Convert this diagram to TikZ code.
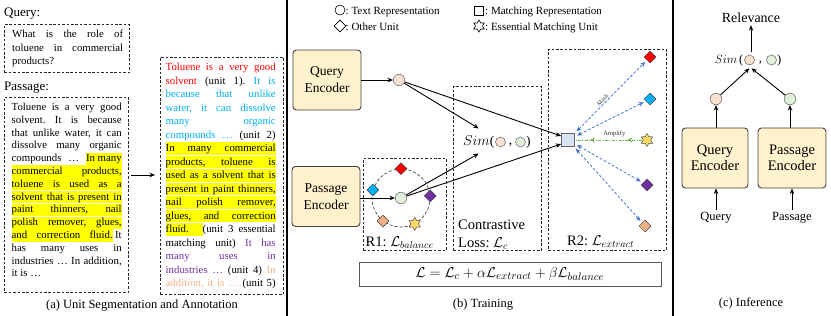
\documentclass[tikz,border=0pt]{standalone}
\usepackage{fontspec}
\setmainfont{Liberation Serif}
\usetikzlibrary{arrows.meta,shapes.geometric,decorations.markings,positioning}
\definecolor{encfill}{HTML}{FFF2CC}
\definecolor{qfill}{HTML}{FBE0D0}
\definecolor{pfill}{HTML}{E2F0D9}
\definecolor{sqfill}{HTML}{DAE3F3}
\definecolor{ured}{HTML}{FF0000}
\definecolor{ublue}{HTML}{00B0F0}
\definecolor{upurple}{HTML}{7030A0}
\definecolor{uorange}{HTML}{F4B183}
\definecolor{ustar}{HTML}{FFD966}
\definecolor{hlyellow}{HTML}{FFFF00}
\definecolor{maskblue}{HTML}{4472C4}
\definecolor{ampgreen}{HTML}{70AD47}
\frenchspacing
\newcommand\jline[1]{\hbox to\hsize{#1}}
\newcommand\rline[1]{\hbox to\hsize{#1\hfil}}
\def\hlstrut{\rule[-3pt]{0pt}{12pt}}
\newcommand\hlfull[1]{\hbox{\colorbox{hlyellow}{\hbox to\hsize{\hlstrut #1}}}}
\newcommand\hlpart[1]{\colorbox{hlyellow}{\hlstrut #1}}
\newcommand\hlwide[2]{\colorbox{hlyellow}{\hbox to #1{\hlstrut #2}}}
\begin{document}
\begin{tikzpicture}[x=1pt,y=-1pt,
  dbox/.style={draw=black!85, dashed, dash pattern=on 2.6pt off 1.8pt, line width=0.75pt, inner sep=0, anchor=north west},
  enc/.style={draw=black!75, fill=encfill, rounded corners=3.5pt, line width=0.9pt, minimum width=68pt, minimum height=60pt, align=center, inner sep=0, font=\fontsize{13.5}{17}\selectfont},
  encc/.style={enc, minimum width=66pt, font=\fontsize{14.5}{16.5}\selectfont},
  rep/.style={circle, draw=black!55, line width=0.6pt, minimum size=11.5pt, inner sep=0},
  qrep/.style={rep, fill=qfill},
  prep/.style={rep, fill=pfill},
  srep/.style={rep, minimum size=10pt},
  unitd/.style={diamond, draw=black!75, line width=0.5pt, minimum size=12pt, inner sep=0},
  estar/.style={star, star points=6, star point ratio=1.73, draw=black!70, line width=0.5pt, fill=ustar, minimum size=13pt, inner sep=0},
  arr/.style={-{Stealth[length=5.5pt,width=4.5pt]}, line width=0.9pt},
  maskarr/.style={{Stealth[length=5pt,width=4.5pt]}-{Stealth[length=5pt,width=4.5pt]}, draw=maskblue, dash pattern=on 2.8pt off 1.8pt, line width=0.75pt, shorten <=2.5pt, shorten >=2.5pt},
  amparr/.style={draw=ampgreen, line width=0.75pt, dash pattern=on 3pt off 1.5pt on 0.8pt off 1.5pt, shorten <=1pt, shorten >=1pt, postaction=decorate, decoration={markings, mark=at position 0.23 with {\arrow[ampgreen]{Stealth[length=5pt,width=4.5pt]}}, mark=at position 0.78 with {\arrow[ampgreen]{Stealth[length=5pt,width=4.5pt]}}}},
  lab/.style={inner sep=0, font=\fontsize{14.5}{17}\selectfont},
  simf/.style={inner sep=0, font=\fontsize{13.5}{15}\selectfont},
  simfc/.style={inner sep=0, font=\fontsize{12.5}{14}\selectfont},
  captxt/.style={inner sep=0, font=\fontsize{12.5}{15}\selectfont},
  legtxt/.style={inner sep=0, anchor=base west, font=\fontsize{11}{13}\selectfont},
  headtxt/.style={inner sep=0, anchor=base west, font=\fontsize{13}{15}\selectfont},
  sepline/.style={line width=1.4pt},
]
\useasboundingbox (0,0) rectangle (831,316);

% ---------------- Panel (a)
\node[headtxt] (qhead) at (4,16.5) {Query:};
\node[dbox, minimum width=125pt, minimum height=48pt] (qbox) at (4,24) {};
\node[inner sep=0, anchor=base west] (qtext) at (12,37.5) {\parbox[t]{111pt}{\fontsize{10.8}{13.5}\selectfont\frenchspacing
\jline{What is the role of}
\jline{toluene in commercial}
\rline{products?}}};

\node[headtxt] (phead) at (4,90.5) {Passage:};
\node[dbox, minimum width=124pt, minimum height=195pt] (pbox) at (4,97) {};
\node[inner sep=0, anchor=base west] (ptext) at (11.5,110.5) {\parbox[t]{110pt}{\fontsize{10.8}{12.8}\selectfont\frenchspacing\setlength{\fboxsep}{0pt}\def\hlstrut{\rule[-3pt]{0pt}{12.1pt}}%
\jline{Toluene is a very good}
\jline{solvent. It is because}
\jline{that unlike water, it can}
\jline{dissolve many organic}
\jline{compounds … \hlpart{In many}}
\hlfull{commercial products,}
\hlfull{toluene is used as a}
\hlfull{solvent that is present in}
\hlfull{paint thinners, nail}
\hlfull{polish remover, glues,}
\jline{\hlwide{101pt}{and correction fluid.}\hfil It}
\jline{has many uses in}
\jline{industries … In addition,}
\rline{it is …}}};

\node[dbox, minimum width=123pt, minimum height=237pt] (abox) at (160,57) {};
\node[inner sep=0, anchor=base west] (atext) at (165.5,70.5) {\parbox[t]{110pt}{\fontsize{10.8}{13.5}\selectfont\frenchspacing\setlength{\fboxsep}{0pt}\def\hlstrut{\rule[-3.2pt]{0pt}{12.6pt}}%
\jline{\color{ured}Toluene is a very good}
\jline{{\color{ured}solvent} (unit 1). {\color{ublue}It is}}
\jline{\color{ublue}because that unlike}
\jline{\color{ublue}water, it can dissolve}
\jline{\color{ublue}many organic}
\jline{{\color{ublue}compounds …} (unit 2)}
\hlfull{In many commercial}
\hlfull{products, toluene is}
\hlfull{used as a solvent that is}
\hlfull{present in paint thinners,}
\hlfull{nail polish remover,}
\hlfull{glues, and correction}
\jline{\hlwide{37pt}{fluid.\hfil}(unit 3 essential}
\jline{matching unit) {\color{upurple}It has}}
\jline{\color{upurple}many uses in}
\jline{{\color{upurple}industries …} (unit 4) {\color{uorange}In}}
\jline{{\color{uorange}addition, it is …} (unit 5)}}};

\coordinate (aarr) at (0,175);
\draw[arr, shorten <=2pt, shorten >=5pt] (pbox.east |- aarr) -- (abox.west |- aarr);
\node[captxt] (capa) at (142,306) {(a) Unit Segmentation and Annotation};

% separators
\draw[sepline] (287,0) -- (287,316);
\draw[sepline] (673,0) -- (673,316);

% ---------------- Panel (b)
% legend
\node[circle, draw, line width=0.6pt, minimum size=10pt, inner sep=0] (lg1) at (340,10) {};
\node[legtxt] (lg1t) at (345.5,14) {: Text Representation};
\node[diamond, draw, line width=0.6pt, minimum size=12pt, inner sep=0] (lg2) at (340,26) {};
\node[legtxt] (lg2t) at (345.5,30) {: Other Unit};
\node[draw, line width=0.6pt, minimum size=9.5pt, inner sep=0] (lg3) at (479,11) {};
\node[legtxt] (lg3t) at (485,14) {: Matching Representation};
\node[star, star points=6, star point ratio=1.73, draw, line width=0.6pt, minimum size=12pt, inner sep=0] (lg4) at (479,26) {};
\node[legtxt] (lg4t) at (485,30) {: Essential Matching Unit};

% encoders
\node[enc] (qenc) at (327,80) {Query\\Encoder};
\node[enc] (penc) at (326,196.5) {Passage\\Encoder};

% dashed region boxes
\node[dbox, minimum width=83pt, minimum height=92pt] (r1) at (363,158) {};
\node[dbox, minimum width=88pt, minimum height=164pt] (cbox) at (453,86) {};
\node[dbox, minimum width=118pt, minimum height=201pt] (r2) at (548,49) {};

\node[lab, anchor=base west] (r1l) at (365.5,246) {R1: $\mathcal{L}_{balance}$};
\node[lab, anchor=base west] (cl1) at (458,229) {Contrastive};
\node[lab, anchor=base west] (cl2) at (458,247) {Loss: $\mathcal{L}_c$};
\node[lab, anchor=base west] (r2l) at (567,245) {R2: $\mathcal{L}_{extract}$};

% R1 ring
\node[circle, draw=black!80, dash pattern=on 3pt off 2pt, line width=0.6pt, minimum size=58pt, inner sep=0] (ring) at (401,198) {};
\node[unitd, fill=ured] (d1) at (ring.90) {};
\node[unitd, fill=ublue] (d2) at (ring.164) {};
\node[unitd, fill=upurple] (d3) at (ring.4) {};
\node[unitd, fill=uorange] (d4) at (ring.232) {};
\node[estar] (d5) at (ring.298) {};

% representations
\node[qrep] (qv) at (399,80) {};
\node[prep] (pv) at (401,198) {};

% Sim in (b)
\node[simf, anchor=east] (simb) at (494.5,142) {$Sim$(};
\node[srep, fill=qfill] (simb1) at (500.5,142) {};
\node[simf] (simbc) at (510.5,144.5) {,};
\node[srep, fill=pfill] (simb2) at (520.5,142) {};
\node[simf, anchor=west] (simbr) at (526,142) {)};

% matching representation
\node[draw=black!60, fill=sqfill, minimum size=13pt, inner sep=0, line width=0.7pt] (mr) at (568,140) {};

% R2 units
\node[unitd, fill=ured] (e1) at (650,57) {};
\node[unitd, fill=ublue] (e2) at (650,99) {};
\node[estar] (e3) at (647,140) {};
\node[unitd, fill=upurple] (e4) at (647,185) {};
\node[unitd, fill=uorange] (e5) at (645,226) {};

% black arrows
\draw[arr] (qenc) -- (qv);
\draw[arr] (penc.east |- pv) -- (pv);
\draw[arr] (qv) -- ([yshift=7pt]simb.north);
\draw[arr] (qv) -- ([yshift=4pt]mr.west);
\draw[arr] (pv) -- ([yshift=-5pt]simb.south);
\draw[arr] (pv) -- ([yshift=-4pt]mr.west);

% mask / amplify arrows
\draw[maskarr] (mr) -- node[sloped, above, pos=0.42, inner sep=1pt, font=\fontsize{6}{7}\selectfont, text=black!80] (maskl) {Mask} (e1);
\draw[maskarr] (mr) -- (e2);
\draw[maskarr] (mr) -- (e4);
\draw[maskarr] (mr) -- (e5);
\draw[amparr] (e3) -- node[above, pos=0.42, inner sep=1pt, yshift=2pt, font=\fontsize{6.5}{7}\selectfont, text=black!80] (ampl) {Amplify} (mr);

% loss formula
\node[draw=black!65, line width=0.7pt, minimum width=302pt, minimum height=24pt, inner sep=0, font=\fontsize{15}{17}\selectfont] (fbox) at (510,274) {$\mathcal{L} = \mathcal{L}_c + \alpha\mathcal{L}_{extract} + \beta\mathcal{L}_{balance}$};

\node[captxt] (capb) at (483,305) {(b) Training};

% ---------------- Panel (c)
\node[inner sep=0, font=\fontsize{14}{16}\selectfont] (rel) at (751,18) {Relevance};
\node[simfc, anchor=east] (simc) at (743.5,60) {$Sim$\,(};
\node[srep, fill=qfill] (simc1) at (749.5,60) {};
\node[simfc] (simcc) at (760.5,62.5) {,};
\node[srep, fill=pfill] (simc2) at (771.5,60) {};
\node[simfc, anchor=west] (simcr) at (777,60) {)};

\node[qrep] (cq) at (716,99) {};
\node[prep] (cp) at (790,99) {};
\node[encc] (cqe) at (715,158) {Query\\Encoder};
\node[encc, minimum width=68pt] (cpe) at (792,158) {Passage\\Encoder};
\node[inner sep=0, font=\fontsize{12.5}{15}\selectfont] (cql) at (716,218) {Query};
\node[inner sep=0, font=\fontsize{12.5}{15}\selectfont] (cpl) at (792,218) {Passage};

\draw[arr, shorten <=2pt] (cql.north) -- (cql.north |- cqe.south);
\draw[arr, shorten <=2pt] (cpl.north) -- (cpl.north |- cpe.south);
\draw[arr] (cqe.north -| cq) -- (cq);
\draw[arr] (cpe.north -| cp) -- (cp);
\draw[arr] (cq) -- ([yshift=-3pt]simc1.south);
\draw[arr] (cp) -- ([yshift=-3pt,xshift=2pt]simc1.south);
\draw[arr, shorten >=2pt] ([yshift=2.5pt]simc1.north -| rel.south) -- (rel.south);

\node[captxt] (capc) at (751,303) {(c) Inference};
\end{tikzpicture}
\end{document}
